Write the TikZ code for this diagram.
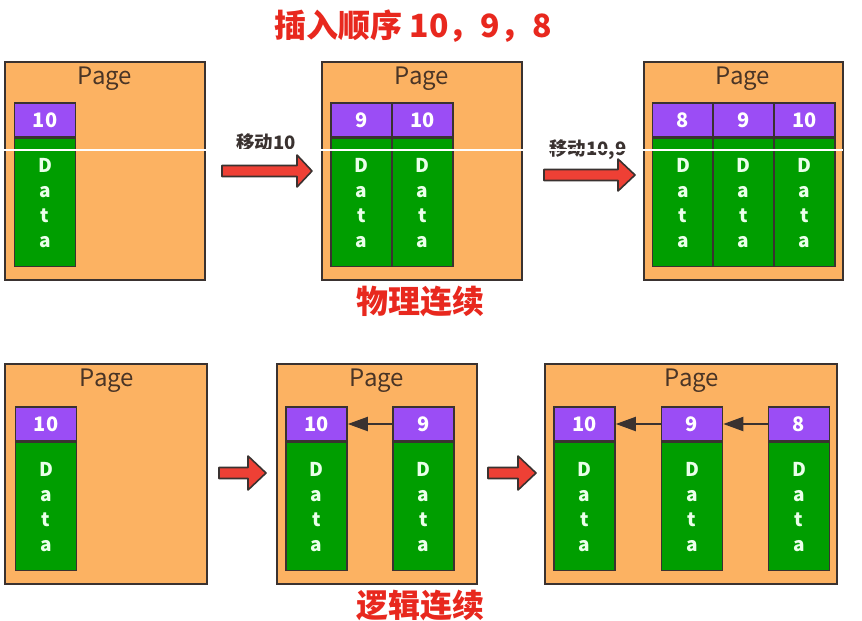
\documentclass[tikz,border=0pt]{standalone}
\usepackage{fontspec}
\setmainfont{Noto Sans CJK SC}
\usetikzlibrary{arrows.meta}
\definecolor{pagefill}{HTML}{FCB262}
\definecolor{keyfill}{HTML}{9B4DF5}
\definecolor{datafill}{HTML}{009E00}
\definecolor{edgec}{HTML}{3A3230}
\definecolor{redtxt}{HTML}{E8281E}
\definecolor{redarrow}{HTML}{EE4035}
\definecolor{pagetxt}{HTML}{4A3526}
\definecolor{datatxt}{HTML}{EAFFEA}
\tikzset{
  pagebox/.style={draw=edgec, line width=2pt, fill=pagefill, inner sep=0pt},
  pagelabel/.style={text=pagetxt, inner sep=0pt, font=\fontsize{24}{28}\selectfont},
  keybox/.style={draw=edgec, line width=1.6pt, fill=keyfill, text=white, inner sep=0pt,
    minimum width=61, minimum height=34, font=\fontsize{20}{24}\selectfont\bfseries},
  databox/.style={draw=edgec, line width=1.6pt, fill=datafill, text=datatxt, inner sep=0pt,
    minimum width=61, minimum height=128, align=center, font=\fontsize{19}{25}\selectfont\bfseries},
  blockarrow/.style={draw=edgec, line width=1.6pt, fill=redarrow, line join=round},
  movelabel/.style={text=edgec, inner sep=0pt, font=\fontsize{18.5}{22}\selectfont\bfseries},
  redlabel/.style={text=redtxt, inner sep=0pt, font=\fontsize{32}{38}\selectfont\bfseries},
  linkarrow/.style={draw=edgec, line width=2pt, -{Triangle[length=20pt, width=14pt]}},
}
\newcommand\rec[4]{%
  \node[keybox] (#1k) at (#2,#3) {#4};
  \node[databox, anchor=north] (#1d) at (#1k.south) {D\\a\\t\\a};
}
\newcommand\blkarrow[5]{% x1 x2 y headhalf headlen
  \draw[blockarrow] (#1,#3-5.5) -- (#2-#5,#3-5.5) -- (#2-#5,#3-#4) -- (#2,#3)
    -- (#2-#5,#3+#4) -- (#2-#5,#3+5.5) -- (#1,#3+5.5) -- cycle;
}
\begin{document}
\begin{tikzpicture}[x=1pt,y=-1pt]
\useasboundingbox[fill=white] (0,0) rectangle (862,621);

\node[redlabel] (title) at (413,26) {插入顺序 10，9，8};

% top row pages
\node[pagebox, minimum width=200, minimum height=218] (tp1) at (105,171) {};
\node[pagebox, minimum width=200, minimum height=218] (tp2) at (422,171) {};
\node[pagebox, minimum width=199, minimum height=218] (tp3) at (743.5,171) {};
\node[pagelabel] (tp1l) at (105,79) {Page};
\node[pagelabel] (tp2l) at (422,79) {Page};
\node[pagelabel] (tp3l) at (743,79) {Page};

\rec{ta}{45}{120}{10}
\rec{tb}{361.5}{120}{9}
\rec{tc}{422.5}{120}{10}
\rec{td}{683}{120}{8}
\rec{te}{743.5}{120}{9}
\rec{tf}{804.5}{120}{10}

\blkarrow{222}{312}{171}{16}{15}
\blkarrow{544}{635}{175}{16}{17}
\node[movelabel] (m1) at (266,143) {移动10};
\node[movelabel] (m2) at (588,150) {移动10,9};

\node[redlabel] (phys) at (420,302) {物理连续};

% bottom row pages
\node[pagebox, minimum width=202, minimum height=220] (bp1) at (106,474) {};
\node[pagebox, minimum width=200, minimum height=220] (bp2) at (377,474) {};
\node[pagebox, minimum width=292, minimum height=220] (bp3) at (691,474) {};
\node[pagelabel] (bp1l) at (107,381) {Page};
\node[pagelabel] (bp2l) at (377,381) {Page};
\node[pagelabel] (bp3l) at (692,381) {Page};

\rec{ba}{46}{424}{10}
\rec{bb}{316.5}{424}{10}
\rec{bc}{423.5}{424}{9}
\rec{bd}{584.5}{424}{10}
\rec{be}{692}{424}{9}
\rec{bf}{799}{424}{8}

\draw[linkarrow] (bck.west) -- (bbk.east);
\draw[linkarrow] (bek.west) -- (bdk.east);
\draw[linkarrow] (bfk.west) -- (bek.east);

\blkarrow{219}{266}{473}{17}{18}
\blkarrow{488}{536}{473}{17}{18}

\node[redlabel] (logic) at (420,606) {逻辑连续};

\draw[white, line width=1.2pt] (4,150) -- (843,150);
\end{tikzpicture}
\end{document}
